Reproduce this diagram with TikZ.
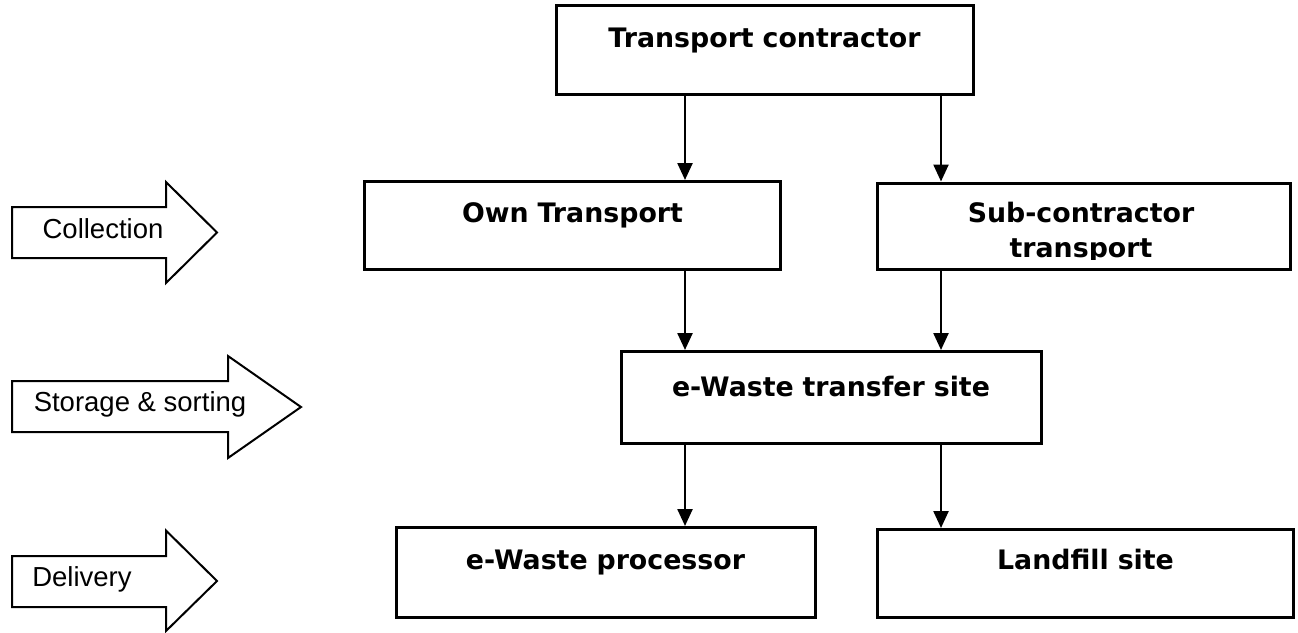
\documentclass[tikz,border=0pt]{standalone}
\usepackage{fontspec}
\usetikzlibrary{arrows.meta}
\newfontfamily\boxfont{DejaVu Sans}
\newfontfamily\lblfont{Liberation Sans}
\begin{document}
\begin{tikzpicture}[x=1pt,y=-1pt,
  box/.style={draw, line width=3pt, inner sep=0pt, align=center,
    font=\boxfont\bfseries\fontsize{26.8}{35}\selectfont, anchor=base},
  emptybox/.style={draw, line width=3pt, inner sep=0pt, anchor=north west},
  boxtext/.style={inner sep=0pt, align=center, anchor=base,
    font=\boxfont\bfseries\fontsize{26.8}{35}\selectfont},
  arr/.style={line width=2.4pt, -{Triangle[length=17pt,width=15pt]}},
  blk/.style={draw, line width=2pt, line join=miter},
  lbl/.style={font=\lblfont\fontsize{27.5}{30}\selectfont, anchor=base, inner sep=0pt}
]
\useasboundingbox (0,0) rectangle (1298,632);

% main boxes
\node[box, text width=417pt, text height=41.5pt, text depth=47.5pt] (tc) at (764.5,47) {Transport contractor};
\node[box, text width=416pt, text height=40.5pt, text depth=47.5pt] (ot) at (572.5,222) {Own Transport};
\node[emptybox, minimum width=413pt, minimum height=86pt] (sc) at (875.5,181.5) {};
\begin{scope}
  \clip (877,183) rectangle (1290,259);
  \node[boxtext] (sctext) at (1081,257) {Sub-contractor\\transport};
\end{scope}
\node[box, text width=420pt, text height=44.5pt, text depth=47.5pt] (ts) at (831,396) {e-Waste transfer site};
\node[box, text width=419pt, text height=41.5pt, text depth=48.5pt] (ep) at (605.5,569) {e-Waste processor};
\node[box, text width=416pt, text height=39.5pt, text depth=48.5pt] (lf) at (1085.5,569) {Landfill site};

% columns for connectors
\coordinate (xA) at (685,0);
\coordinate (xB) at (941,0);

\draw[arr] (tc.south -| xA) -- (ot.north -| xA);
\draw[arr] (tc.south -| xB) -- (sc.north -| xB);
\draw[arr] (ot.south -| xA) -- (ts.north -| xA);
\draw[arr] (sc.south -| xB) -- (ts.north -| xB);
\draw[arr] (ts.south -| xA) -- (ep.north -| xA);
\draw[arr] (ts.south -| xB) -- (lf.north -| xB);

% stage arrows
\draw[blk] (12,207) -- (166,207) -- (166,182) -- (217,232.5) -- (166,283) -- (166,258) -- (12,258) -- cycle;
\node[lbl] (lcol) at (103,238) {Collection};
\draw[blk] (12,381) -- (228,381) -- (228,356) -- (301,407) -- (228,458) -- (228,432) -- (12,432) -- cycle;
\node[lbl] (lsto) at (140,411) {Storage \& sorting};
\draw[blk] (12,556) -- (166,556) -- (166,530.5) -- (217,581) -- (166,631) -- (166,607) -- (12,607) -- cycle;
\node[lbl] (ldel) at (82,586) {Delivery};
\end{tikzpicture}
\end{document}
